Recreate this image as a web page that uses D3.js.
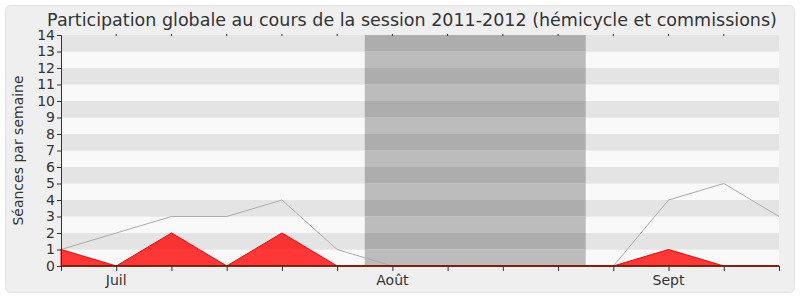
<!DOCTYPE html>
<html>
<head>
<meta charset="utf-8">
<script src="https://cdn.jsdelivr.net/npm/d3@7"></script>
<style>
  body { margin: 0; background: #fff; }
  svg { display: block; font-family: "DejaVu Sans", sans-serif; }
</style>
</head>
<body>
<div id="chart"></div>
<script>
// weekly counts, 14 weeks from late June to mid September
const weeks = d3.range(14);
const totalSeances = [1, 2, 3, 3, 4, 1, 0, 0, 0, 0, 0, 4, 5, 3];
const hemicycle = [1, 0, 2, 0, 2, 0, 0, 0, 0, 0, 0, 1, 0, 0];
const monthLabels = [{ i: 1, label: 'Juil' }, { i: 6, label: 'Août' }, { i: 11, label: 'Sept' }];
const vacation = [5.5, 9.5];

const W = 800, H = 300;
const margin = { top: 35, right: 21, bottom: 34, left: 61 };
const iw = W - margin.left - margin.right;
const ih = H - margin.top - margin.bottom;

const svg = d3.select('#chart').append('svg')
  .attr('width', W).attr('height', H);

svg.append('rect')
  .attr('x', 5.5).attr('y', 5.5).attr('width', 789).attr('height', 287)
  .attr('rx', 5).attr('fill', '#efefef').attr('stroke', '#e2e2e2');

svg.append('text')
  .attr('x', 412).attr('y', 26)
  .attr('text-anchor', 'middle')
  .attr('font-size', 17.5).attr('fill', '#333')
  .text('Participation globale au cours de la session 2011-2012 (hémicycle et commissions)');

const x = d3.scaleLinear().domain([0, 13]).range([0, iw]);
const y = d3.scaleLinear().domain([0, 14]).range([ih, 0]);

const g = svg.append('g').attr('transform', `translate(${margin.left},${margin.top})`);

// horizontal stripes
const bands = d3.range(14);
g.selectAll('rect.band').data(bands).join('rect')
  .attr('x', 0).attr('width', iw)
  .attr('y', d => y(d + 1)).attr('height', d => y(d) - y(d + 1))
  .attr('fill', d => d % 2 ? '#e4e4e4' : '#f9f9f9');

// vacation shading
g.selectAll('rect.vac').data(bands).join('rect')
  .attr('x', x(vacation[0])).attr('width', x(vacation[1]) - x(vacation[0]))
  .attr('y', d => y(d + 1)).attr('height', d => y(d) - y(d + 1))
  .attr('fill', d => d % 2 ? '#adadad' : '#bcbcbc');

// total line
g.append('path')
  .datum(totalSeances)
  .attr('fill', 'none').attr('stroke', '#aaa').attr('stroke-width', 1)
  .attr('d', d3.line().x((d, i) => x(weeks[i])).y(d => y(d)));

// hemicycle area
g.append('path')
  .datum(hemicycle)
  .attr('fill', 'rgba(255,0,0,0.78)').attr('stroke', '#f00').attr('stroke-width', 1)
  .attr('d', d3.area().x((d, i) => x(weeks[i])).y0(y(0)).y1(d => y(d)));

// baseline
g.append('line')
  .attr('x1', 0).attr('x2', iw).attr('y1', y(0)).attr('y2', y(0))
  .attr('stroke', '#5a1a00').attr('stroke-width', 1.5);

// axes
const xAxis = g.append('g')
  .attr('transform', `translate(0,${ih})`)
  .call(d3.axisBottom(x).tickValues(weeks).tickSize(5).tickFormat(''));
xAxis.select('.domain').remove();
xAxis.selectAll('line').attr('stroke', '#333');

g.selectAll('text.month').data(monthLabels).join('text')
  .attr('x', d => x(d.i)).attr('y', ih + 19)
  .attr('text-anchor', 'middle').attr('font-size', 14).attr('fill', '#333')
  .text(d => d.label);

// small top marks
g.selectAll('line.topmark').data(weeks.slice(1, 13)).join('line')
  .attr('x1', d => x(d)).attr('x2', d => x(d))
  .attr('y1', -1).attr('y2', 1)
  .attr('stroke', '#333');

const yAxis = g.append('g')
  .call(d3.axisLeft(y).tickValues(d3.range(15)).tickSize(4).tickPadding(2));
yAxis.select('.domain').attr('stroke', '#333');
yAxis.selectAll('line').attr('stroke', '#333');
yAxis.selectAll('text')
  .attr('font-size', 14).attr('fill', '#333')
  .attr('font-family', '"DejaVu Sans", sans-serif');

svg.append('text')
  .attr('transform', `translate(23,${margin.top + ih / 2}) rotate(-90)`)
  .attr('text-anchor', 'middle').attr('font-size', 14).attr('fill', '#333')
  .text('Séances par semaine');
</script>
</body>
</html>
